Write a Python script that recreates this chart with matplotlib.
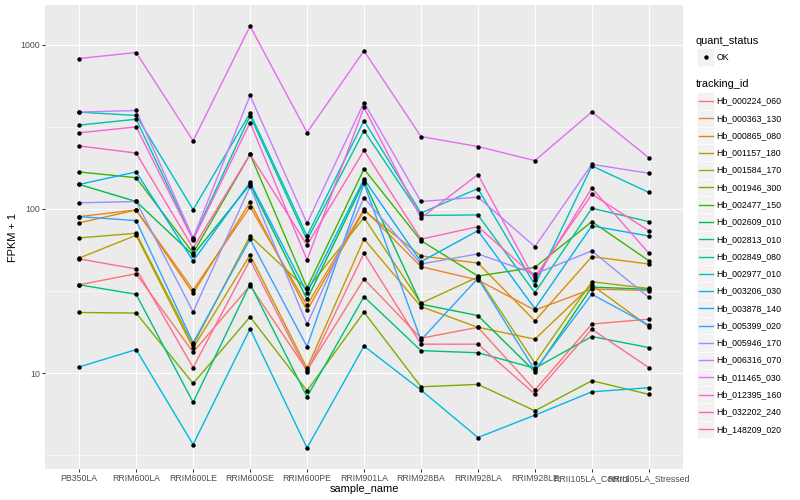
import numpy as np
import matplotlib
matplotlib.use("Agg")
import matplotlib.pyplot as plt
from matplotlib.patches import Rectangle
from matplotlib.lines import Line2D
from matplotlib.ticker import FixedLocator, NullFormatter

plt.rcParams['font.family'] = ['Liberation Sans', 'DejaVu Sans']

# ---------------- data ----------------
samples = ["PB350LA", "RRIM600LA", "RRIM600LE", "RRIM600SE", "RRIM600PE",
           "RRIM901LA", "RRIM928BA", "RRIM928LA", "RRIM928LE",
           "RRII105LA_Control", "RRII105LA_Stressed"]

tracking_ids = ["Hb_000224_060", "Hb_000363_130", "Hb_000865_080", "Hb_001157_180",
                "Hb_001584_170", "Hb_001946_300", "Hb_002477_150", "Hb_002609_010",
                "Hb_002813_010", "Hb_002849_080", "Hb_002977_010", "Hb_003206_030",
                "Hb_003878_140", "Hb_005399_020", "Hb_005946_170", "Hb_006316_070",
                "Hb_011465_030", "Hb_012395_160", "Hb_032202_240", "Hb_148209_020"]

hb_000224_060 = [34.5, 40.3, 13.4, 34.1, 10.4, 37.4, 16.3, 19.0, 7.88, 19.9, 21.3]
hb_000363_130 = [89.8, 98.6, 32.1, 103, 25.9, 99.6, 44.5, 36.9, 24.2, 32.5, 31.8]
hb_000865_080 = [82.2, 98.6, 30.6, 110, 24.1, 97.6, 51.7, 46.8, 20.8, 51.2, 46.2]
hb_001157_180 = [50.2, 69.1, 14.2, 52.4, 10.7, 65.6, 25.4, 19.0, 16.1, 34.4, 19.2]
hb_001584_170 = [66.6, 71.1, 14.8, 68.4, 32.4, 88.5, 26.6, 38.5, 11.5, 36.0, 32.8]
hb_001946_300 = [23.4, 23.2, 8.65, 22.0, 7.80, 23.5, 8.25, 8.53, 5.89, 8.98, 7.42]
hb_002477_150 = [168, 155, 53.9, 215, 33.1, 175, 64.1, 39.0, 44.1, 83.7, 48.4]
hb_002609_010 = [141, 111, 52.4, 141, 28.1, 147, 26.3, 22.4, 10.2, 33.4, 32.4]
hb_002813_010 = [34.5, 30.2, 6.63, 34.9, 7.17, 29.2, 13.7, 13.3, 10.7, 16.7, 14.3]
hb_002849_080 = [324, 352, 65.6, 369, 64.7, 300, 91.3, 91.9, 30.9, 101, 83.7]
hb_002977_010 = [389, 371, 99.0, 383, 68.4, 345, 94.5, 133, 34.4, 183, 126]
hb_003206_030 = [10.9, 13.9, 3.67, 18.6, 3.50, 14.6, 7.88, 4.05, 5.54, 7.69, 8.14]
hb_003878_140 = [141, 168, 48.2, 145, 30.9, 152, 47.7, 73.7, 24.7, 78.8, 68.4]
hb_005399_020 = [89.8, 84.9, 15.3, 65.4, 14.5, 143, 15.9, 37.8, 10.4, 30.2, 19.6]
hb_005946_170 = [109, 111, 23.6, 137, 19.8, 117, 46.2, 53.2, 40.2, 55.5, 28.9]
hb_006316_070 = [389, 398, 66.6, 491, 81.8, 445, 111, 118, 58.9, 187, 165]
hb_011465_030 = [825, 897, 260, 1300, 292, 919, 276, 240, 197, 390, 205]
hb_012395_160 = [291, 316, 64.7, 336, 48.9, 415, 88.1, 162, 36.9, 134, 53.7]
hb_032202_240 = [242, 219, 57.8, 215, 60.3, 227, 65.4, 78.0, 38.5, 123, 73.7]
hb_148209_020 = [49.6, 43.1, 10.8, 48.9, 10.2, 53.7, 15.0, 15.0, 7.44, 18.5, 10.8]

series_values = [hb_000224_060, hb_000363_130, hb_000865_080, hb_001157_180,
                 hb_001584_170, hb_001946_300, hb_002477_150, hb_002609_010,
                 hb_002813_010, hb_002849_080, hb_002977_010, hb_003206_030,
                 hb_003878_140, hb_005399_020, hb_005946_170, hb_006316_070,
                 hb_011465_030, hb_012395_160, hb_032202_240, hb_148209_020]

colors = ["#F8766D", "#EA8331", "#D89000", "#C09B00", "#A3A500", "#7CAE00",
          "#39B600", "#00BB4E", "#00BF7D", "#00C1A3", "#00BFC4", "#00BAE0",
          "#00B0F6", "#35A2FF", "#9590FF", "#C77CFF", "#E76BF3", "#FA62DB",
          "#FF62BC", "#FF6C91"]

# ---------------- layout helpers (pixels -> figure fraction) ----------------
W, H = 800, 500
def fx(x): return x / W
def fy(y): return 1 - y / H
PT = 0.72  # points per pixel at 100 dpi

fig = plt.figure(figsize=(8, 5), dpi=100)
fig.patch.set_facecolor('white')
L, R, T, B = 45, 683, 5, 469
ax = fig.add_axes([fx(L), fy(B), (R - L) / W, (B - T) / H])
ax.set_facecolor('#EBEBEB')
for s in ax.spines.values():
    s.set_visible(False)

x = np.arange(len(samples))
for vals, col in zip(series_values, colors):
    ax.plot(x, vals, color=col, lw=1.0, zorder=2, solid_joinstyle='round')
for vals in series_values:
    ax.plot(x, vals, 'o', color='black', ms=3.2, mew=0, zorder=3)

ax.set_yscale('log')
allv = np.concatenate([np.asarray(v, float) for v in series_values])
lo, hi = np.log10(allv.min()), np.log10(allv.max())
pad = 0.05 * (hi - lo)
ax.set_ylim(10 ** (lo - pad), 10 ** (hi + pad))
ax.set_xlim(-0.6, len(samples) - 1 + 0.6)

ax.set_xticks(x)
ax.set_xticklabels(samples)
ax.set_yticks([10, 100, 1000])
ax.set_yticklabels(['10', '100', '1000'])
ax.yaxis.set_minor_locator(FixedLocator([10 ** 0.5, 10 ** 1.5, 10 ** 2.5]))
ax.yaxis.set_minor_formatter(NullFormatter())
ax.xaxis.set_minor_locator(FixedLocator([]))
ax.tick_params(which='minor', length=0)
ax.tick_params(which='major', length=2.75 * PT, width=1.07 * PT, color='#333333',
               labelcolor='#4D4D4D', labelsize=8.8 * PT, pad=2.2 * PT)
ax.grid(True, which='major', color='white', lw=1.07 * PT)
ax.grid(True, which='minor', axis='y', color='white', lw=0.53 * PT)
ax.set_axisbelow(True)

fig.text(fx((L + R) / 2), fy(489), 'sample_name', ha='center', va='center',
         fontsize=11 * PT, color='black')
fig.text(fx(13), fy((T + B) / 2), 'FPKM + 1', ha='center', va='center',
         rotation=90, fontsize=11 * PT, color='black')

# ---------------- legend ----------------
KEY = 17.28
kx = 697
tx = 716.7
fig.text(fx(696), fy(40.7), 'quant_status', ha='left', va='center',
         fontsize=11 * PT, color='black')
yk = 57
fig.add_artist(Rectangle((fx(kx), fy(yk + KEY / 2)), KEY / W, KEY / H,
                         transform=fig.transFigure, facecolor='#F2F2F2',
                         edgecolor='white', lw=0.5))
fig.add_artist(Line2D([fx(kx + KEY / 2)], [fy(yk)], transform=fig.transFigure,
                      marker='o', color='black', ms=3.2, mew=0, lw=0))
fig.text(fx(tx), fy(yk), 'OK', ha='left', va='center', fontsize=8.8 * PT, color='black')

fig.text(fx(696), fy(84.3), 'tracking_id', ha='left', va='center',
         fontsize=11 * PT, color='black')
y0 = 101
for i, (name, col) in enumerate(zip(tracking_ids, colors)):
    yi = y0 + KEY * i
    fig.add_artist(Rectangle((fx(kx), fy(yi + KEY / 2)), KEY / W, KEY / H,
                             transform=fig.transFigure, facecolor='#F2F2F2',
                             edgecolor='white', lw=0.5))
    fig.add_artist(Line2D([fx(kx + 1.5), fx(kx + KEY - 1.5)], [fy(yi), fy(yi)],
                          transform=fig.transFigure, color=col, lw=1.0))
    fig.text(fx(tx), fy(yi), name, ha='left', va='center',
             fontsize=8.8 * PT, color='black')

fig.savefig('out.png', dpi=100)
